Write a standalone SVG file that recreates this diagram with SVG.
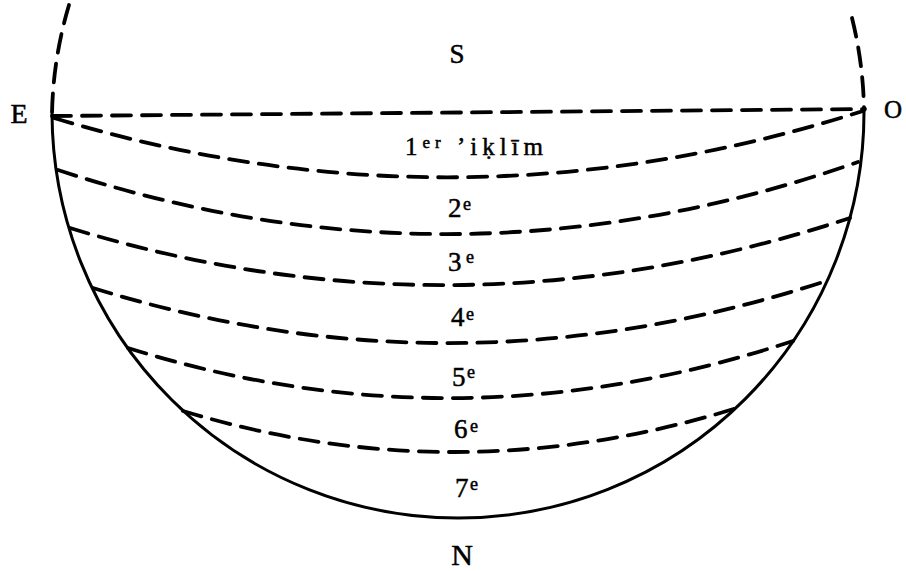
<svg xmlns="http://www.w3.org/2000/svg" width="906" height="571" viewBox="0 0 906 571">
<style>
.dash{fill:none;stroke:#000;stroke-width:3.8;stroke-dasharray:19 11;stroke-linecap:round}
.solid{fill:none;stroke:#000;stroke-width:3}
.lbl{font-family:"Liberation Serif","DejaVu Serif",serif;fill:#000;stroke:#000;stroke-width:0.5}
</style>
<rect width="906" height="571" fill="#fff"/>
<g id="globe">
<path class="dash" d="M69 5 A406 406 0 0 0 52 114"/>
<path class="dash" d="M852 18 A406 406 0 0 1 864 110"/>
<path class="solid" d="M52 114 A406 406 0 0 0 458 518 A406 406 0 0 0 864 110"/>
</g>
<g id="connectors">
<path class="dash" d="M52 116 L865 109"/>
<path class="dash" d="M54 118 Q458 240 863 111"/>
<path class="dash" d="M58 170 Q458 302 858 162"/>
<path class="dash" d="M70 228 Q458 347 850 218"/>
<path class="dash" d="M93 288 Q458 401.5 826 281"/>
<path class="dash" d="M128 348 Q458 451.5 793 341"/>
<path class="dash" d="M183 411 Q458 494.5 737 408"/>
</g>
<g id="S"><text class="lbl" x="457" y="63" font-size="27" text-anchor="middle">S</text></g>
<g id="E"><text class="lbl" x="19" y="123" font-size="28" text-anchor="middle">E</text></g>
<g id="O"><text class="lbl" x="893" y="118" font-size="25" text-anchor="middle">O</text></g>
<g id="N"><text class="lbl" x="462" y="565" font-size="30" text-anchor="middle">N</text></g>
<g id="z1"><text class="lbl" x="405" y="155" font-size="25" textLength="138" lengthAdjust="spacing">1<tspan font-size="17" dy="-7">er</tspan><tspan dy="7"> ’iḳlīm</tspan></text></g>
<g id="z2"><text class="lbl" x="448" y="217" font-size="27">2<tspan x="463" y="210" font-size="18">e</tspan></text></g>
<g id="z3"><text class="lbl" x="448" y="271" font-size="27">3<tspan x="466" y="263" font-size="18">e</tspan></text></g>
<g id="z4"><text class="lbl" x="451" y="326" font-size="27">4<tspan x="466" y="320" font-size="18">e</tspan></text></g>
<g id="z5"><text class="lbl" x="452" y="386" font-size="27">5<tspan x="467" y="378" font-size="18">e</tspan></text></g>
<g id="z6"><text class="lbl" x="454" y="438" font-size="27">6<tspan x="470" y="432" font-size="18">e</tspan></text></g>
<g id="z7"><text class="lbl" x="455" y="497" font-size="27">7<tspan x="470" y="490" font-size="18">e</tspan></text></g>
</svg>
